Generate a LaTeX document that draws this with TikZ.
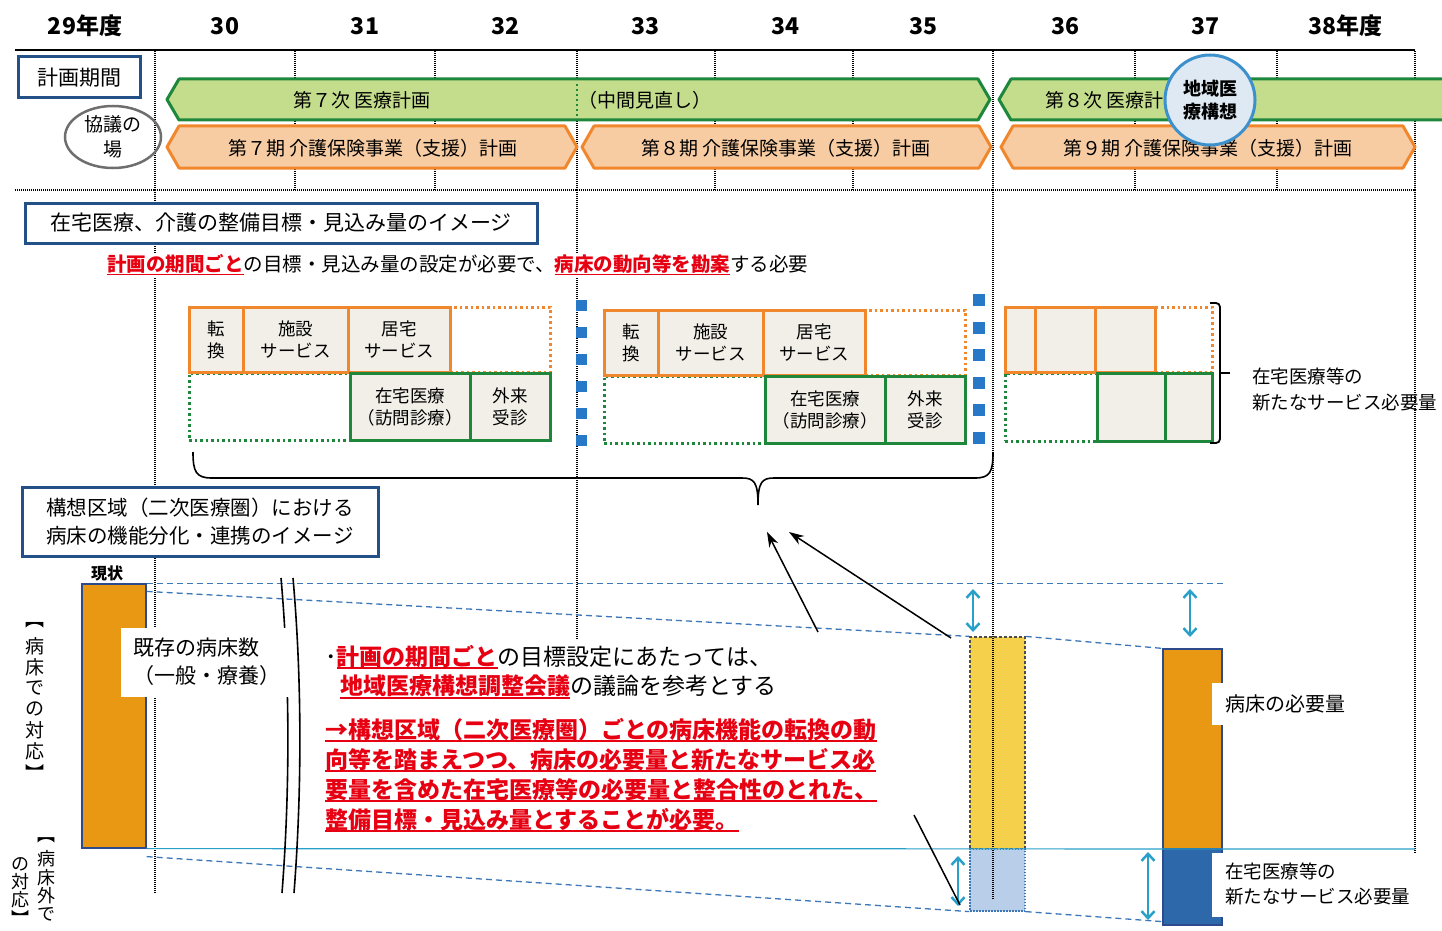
\documentclass[tikz,border=0pt]{standalone}
\usepackage{fontspec}
\setmainfont{Noto Sans CJK JP}
\usetikzlibrary{arrows.meta,shapes.geometric}
\definecolor{kblue}{RGB}{35,80,135}
\definecolor{kgreen}{RGB}{30,135,60}
\definecolor{kgfill}{RGB}{196,221,140}
\definecolor{korange}{RGB}{240,135,45}
\definecolor{kofill}{RGB}{248,204,163}
\definecolor{kcell}{RGB}{242,239,232}
\definecolor{kbar}{RGB}{232,152,18}
\definecolor{kyellow}{RGB}{245,208,75}
\definecolor{kbarblue}{RGB}{45,105,170}
\definecolor{klblue}{RGB}{185,206,232}
\definecolor{kcyan}{RGB}{40,160,200}
\definecolor{kdash}{RGB}{60,120,185}
\definecolor{kcirc}{RGB}{222,233,244}
\definecolor{kcircb}{RGB}{60,145,205}
\definecolor{kred}{RGB}{230,0,18}
\definecolor{kgray}{RGB}{110,110,110}
\definecolor{ksq}{RGB}{40,120,200}
\definecolor{kedge}{RGB}{45,75,140}
\newcommand\fsz[2]{\fontsize{#1}{#2}\selectfont}
\newcommand\redul[1]{{\color{kred}\setbox0\hbox{\bfseries #1}\rlap{\rule[-0.17em]{\wd0}{0.08em}}\box0}}
\tikzset{
  yr/.style={font=\fsz{23}{27}\bfseries, inner sep=0},
  lbl/.style={font=\fsz{19}{23}, align=center, inner sep=0},
  titlebox/.style={draw=kblue, line width=3pt, fill=white, font=\fsz{21}{28}, align=center, inner sep=0},
  yline/.style={line width=1.6pt, dash pattern=on 1pt off 1pt},
  gbar/.style={draw=kgreen, fill=kgfill, line width=3pt, line join=round},
  obar/.style={draw=korange, fill=kofill, line width=3pt, line join=round},
  ocell/.style={draw=korange, fill=kcell, line width=3pt, align=center, inner sep=0, font=\fsz{17.5}{22}},
  gcell/.style={draw=kgreen, fill=kcell, line width=3pt, align=center, inner sep=0, font=\fsz{17.5}{22}},
  ocelld/.style={draw=korange, line width=3pt, dash pattern=on 2.5pt off 3pt, inner sep=0},
  gcelld/.style={draw=kgreen, line width=3pt, dash pattern=on 2.5pt off 3pt, inner sep=0},
  bar/.style={draw=kedge, line width=1.2pt, inner sep=0},
  dashb/.style={kdash, line width=1.3pt, dash pattern=on 6pt off 4pt},
  dbl/.style={kcyan, line width=2.5pt, {Straight Barb[length=7pt,width=13pt]}-{Straight Barb[length=7pt,width=13pt]}},
  blk/.style={line width=1.5pt, -{Stealth[length=15pt,width=10pt]}},
  txt/.style={font=\fsz{23}{28}, inner sep=0, anchor=west},
  vch/.style={font=\fsz{19}{20}, inner sep=0},
}
\begin{document}
\begin{tikzpicture}[x=1pt,y=-1pt]
\useasboundingbox (0,0) rectangle (1442,931);
% years and grid
\foreach \x/\t [count=\i] in {85/29年度,225/30,365/31,505/32,645/33,785/34,923/35,1065/36,1205/37,1345/38年度}
  \node[yr] (yr\i) at (\x,26) {\t};
\draw[line width=2pt] (15,50) -- (1415,50);
\foreach \x in {155,295,435,577,715,853,993,1135,1277,1415}
  \draw[yline] (\x,51) -- (\x,190);
\draw[yline] (15,190) -- (1415,190);

% plan periods
\node[titlebox, minimum width=122, minimum height=41] (plan) at (79,77.5) {計画期間};
\draw[gbar] (167,99.5) -- (179,79) -- (978,79) -- (990,99.5) -- (978,120) -- (179,120) -- cycle;
\draw[gbar] (999,99.5) -- (1011,79) -- (1450,79) -- (1450,120) -- (1011,120) -- cycle;
\draw[obar] (167,147) -- (179,126) -- (565,126) -- (577,147) -- (565,168) -- (179,168) -- cycle;
\draw[obar] (582,147) -- (594,126) -- (979,126) -- (991,147) -- (979,168) -- (594,168) -- cycle;
\draw[obar] (1001,147) -- (1013,126) -- (1403,126) -- (1415,147) -- (1403,168) -- (1013,168) -- cycle;
\draw[kgreen, line width=2pt, dash pattern=on 2pt off 3pt] (577,84) -- (577,120);
\node[lbl] (med7) at (362,100) {第７次\ 医療計画};
\node[lbl, anchor=west] (mid) at (578,100) {（中間見直し）};
\node[lbl, anchor=west] (med8) at (1045,100) {第８次\ 医療計画};
\node[lbl] (care7) at (373,148) {第７期\ 介護保険事業（支援）計画};
\node[lbl] (care8) at (786,148) {第８期\ 介護保険事業（支援）計画};
\node[lbl] (care9) at (1208,148) {第９期\ 介護保険事業（支援）計画};
\node[circle, draw=kcircb, fill=kcirc, line width=3pt, minimum size=90, inner sep=0,
  align=center, font=\fsz{18}{23}\bfseries] (vision) at (1210,100) {地域医\\療構想};
\node[ellipse, draw=kgray, line width=2.5pt, minimum width=96, minimum height=62, inner sep=0,
  align=center, font=\fsz{19}{25}] (forum) at (113,137) {協議の\\場};

% bars of the bed area
\node[bar, fill=kbar, minimum width=64, minimum height=264] (now) at (114,716) {};
\node[bar, fill=kyellow, draw=black!70, dash pattern=on 3pt off 2pt, minimum width=55, minimum height=212] (fut) at (997.5,743) {};
\node[bar, fill=klblue, draw=kdash, dash pattern=on 1.5pt off 1.5pt, minimum width=55, minimum height=62] (futb) at (997.5,880) {};
\node[bar, fill=kbar, minimum width=59, minimum height=200] (nbed) at (1192.5,749) {};
\node[bar, fill=kbarblue, minimum width=59, minimum height=76] (nhome) at (1192.5,887) {};

% long grid lines
\draw[yline] (155,190) -- (155,893);
\draw[yline] (577,190) -- (577,640);
\draw[yline] (993,190) -- (993,900);
\draw[yline] (1415,190) -- (1415,855);

% home care targets
\node[titlebox, minimum width=512, minimum height=40] (target) at (281,223) {在宅医療、介護の整備目標・見込み量のイメージ};
\node[anchor=west, fill=white, inner sep=2pt, font=\fsz{19.5}{24}] (needs) at (105,265)
  {\redul{計画の期間ごと}の目標・見込み量の設定が必要で、\redul{病床の動向等を勘案}する必要};

% block 1
\node[gcelld, minimum width=161, minimum height=67] (a5) at (269.5,406.5) {};
\node[ocelld, minimum width=100, minimum height=65] (a4) at (500,339.5) {};
\node[ocell, minimum width=54, minimum height=65] (a1) at (216,339.5) {転\\換};
\node[ocell, minimum width=105, minimum height=65] (a2) at (295.5,339.5) {施設\\サービス};
\node[ocell, minimum width=102, minimum height=65] (a3) at (399,339.5) {居宅\\サービス};
\node[gcell, minimum width=120, minimum height=67] (a6) at (410,406.5) {在宅医療\\（訪問診療）};
\node[gcell, minimum width=80, minimum height=67] (a7) at (510,406.5) {外来\\受診};
% block 2
\node[gcelld, minimum width=161, minimum height=67] (b5) at (684.5,409.5) {};
\node[ocelld, minimum width=100, minimum height=65] (b4) at (915,342.5) {};
\node[ocell, minimum width=54, minimum height=65] (b1) at (631,342.5) {転\\換};
\node[ocell, minimum width=105, minimum height=65] (b2) at (710.5,342.5) {施設\\サービス};
\node[ocell, minimum width=102, minimum height=65] (b3) at (814,342.5) {居宅\\サービス};
\node[gcell, minimum width=120, minimum height=67] (b6) at (825,409.5) {在宅医療\\（訪問診療）};
\node[gcell, minimum width=80, minimum height=67] (b7) at (925,409.5) {外来\\受診};
% block 3
\node[gcelld, minimum width=92, minimum height=68] (c5) at (1051,407) {};
\node[ocelld, minimum width=57, minimum height=65] (c4) at (1183.5,339.5) {};
\node[ocell, minimum width=30, minimum height=65] (c1) at (1020,339.5) {};
\node[ocell, minimum width=60, minimum height=65] (c2) at (1065,339.5) {};
\node[ocell, minimum width=60, minimum height=65] (c3) at (1125,339.5) {};
\node[gcell, minimum width=68, minimum height=68] (c6) at (1131,407) {};
\node[gcell, minimum width=47, minimum height=68] (c7) at (1188.5,407) {};
\foreach \k in {0,...,5} {
  \fill[ksq] (576,300+27*\k) rectangle ++(11,11);
  \fill[ksq] (973,294+27.5*\k) rectangle ++(12,12);
}
\draw[line width=1.8pt, rounded corners=4pt] (1210,303) -- (1220,303) -- (1220,443) -- (1210,443);
\draw[line width=1.8pt] (1220,373) -- (1230,373);
\node[lbl, anchor=west, align=left, font=\fsz{18.5}{26}] (needlbl) at (1252,389) {在宅医療等の\\新たなサービス必要量};
\draw[line width=1.6pt] (193,452) .. controls (193,472) and (196,478) .. (212,478) -- (742,478)
  .. controls (754,478) and (758,482) .. (758,505) .. controls (758,482) and (762,478) .. (774,478)
  -- (975,478) .. controls (990,478) and (993,472) .. (993,452);

% bed functions
\node[titlebox, minimum width=356, minimum height=69, font=\fsz{20.5}{28}] (area) at (200,521.5)
  {構想区域（二次医療圏）における\\病床の機能分化・連携のイメージ};
\node[font=\fsz{16}{18}\bfseries, inner sep=0] (nowlbl) at (107,573) {現状};
\draw[dashb] (now.north east) -- (now.north east -| nbed.east);
\draw[dashb] ([yshift=-8pt]now.north east) -- (fut.north west);
\draw[dashb] (fut.north east) -- (nbed.north west);
\draw[kcyan, line width=1.2pt] (now.south east) -- (1415,849);
\draw[dashb] ([yshift=-8pt]now.south east) -- (futb.south west);
\draw[dashb] (futb.south east) -- ([yshift=4pt]nhome.south west);
\draw[line width=1.6pt] (281,578) .. controls (290,680) and (290,790) .. (282,893);
\draw[line width=1.6pt] (293,578) .. controls (302,680) and (302,790) .. (294,893);
\fill[white] (121,628) rectangle (290,697);
\node[anchor=west, align=left, inner sep=0, font=\fsz{21}{28}] (exist) at (133,662) {既存の病床数\\（一般・療養）};
\fill[white] (1212,683) rectangle (1380,725);
\node[anchor=west, inner sep=0, font=\fsz{20}{24}] (bedneed) at (1225,704) {病床の必要量};
\fill[white] (1212,853) rectangle (1442,917);
\node[anchor=west, align=left, inner sep=0, font=\fsz{18.5}{25}] (homeneed) at (1225,884) {在宅医療等の\\新たなサービス必要量};

\coordinate (u1) at (973,589); \coordinate (u2) at (973,632);
\coordinate (u3) at (1190,589); \coordinate (u4) at (1190,637);
\coordinate (u5) at (958,856); \coordinate (u6) at (958,906);
\coordinate (u7) at (1148,852); \coordinate (u8) at (1148,920);
\draw[dbl] (u1) -- (u2);
\draw[dbl] (u3) -- (u4);
\draw[dbl] (u5) -- (u6);
\draw[dbl] (u7) -- (u8);

% vertical labels
\foreach \c [count=\i] in {︻,病,床,で,の,対,応,︼}
  \node[vch] (va\i) at (35,604+21*\i) {\c};
\foreach \c [count=\i] in {︻,病,床,外,で}
  \node[vch, font=\fsz{18}{19}] (vb\i) at (46,822+18.5*\i) {\c};
\foreach \c [count=\i] in {の,対,応,︼}
  \node[vch, font=\fsz{18}{19}] (vc\i) at (20,846+18*\i) {\c};

% notes
\node[txt] (r1) at (325,657) {･\redul{計画の期間ごと}の目標設定にあたっては、};
\node[txt] (r2) at (340,687) {\redul{地域医療構想調整会議}の議論を参考とする};
\node[txt] (r3) at (325,730) {\redul{→構想区域（二次医療圏）ごとの病床機能の転換の動}};
\node[txt] (r4) at (325,760) {\redul{向等を踏まえつつ、病床の必要量と新たなサービス必}};
\node[txt] (r5) at (325,790) {\redul{要量を含めた在宅医療等の必要量と整合性のとれた、}};
\node[txt] (r6) at (325,820) {\redul{整備目標・見込み量とすることが必要。}};
\coordinate (p1) at (818,632); \coordinate (q1) at (767,532);
\coordinate (p2) at (951,638); \coordinate (q2) at (789,532);
\coordinate (p3) at (914,815); \coordinate (q3) at (960,905);
\draw[blk] (p1) -- (q1);
\draw[blk] (p2) -- (q2);
\draw[line width=1.5pt] (p3) -- (q3);
\end{tikzpicture}
\end{document}
